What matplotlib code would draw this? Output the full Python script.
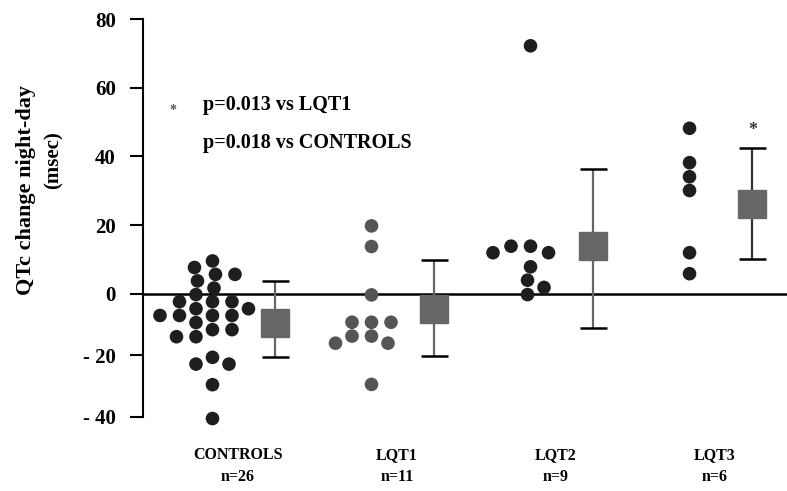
import numpy as np
import matplotlib
matplotlib.use("Agg")
import matplotlib.pyplot as plt

plt.rcParams['font.family'] = ['Liberation Serif', 'DejaVu Serif']
plt.rcParams['font.weight'] = 'bold'

# data (msec)
groups = ['CONTROLS', 'LQT1', 'LQT2', 'LQT3']
n_labels = ['n=26', 'n=11', 'n=9', 'n=6']
controls = [9.6, 7.7, 5.7, 5.7, 3.8, 1.7, -0.2, -2.5, -2.5, -2.5, -4.8, -4.8,
            -7.0, -7.0, -7.0, -7.0, -9.3, -11.6, -11.6, -13.9, -13.9,
            -20.6, -22.8, -22.8, -29.5, -40.5]
lqt1 = [19.8, 13.8, -0.3, -9.2, -9.2, -9.2, -13.7, -13.7, -16.0, -16.0, -29.4]
lqt2 = [72.2, 13.9, 13.9, 12.0, 12.0, 7.9, 4.0, 1.9, -0.2]
lqt3 = [48.2, 38.2, 34.1, 30.1, 12.0, 5.9]
values = [controls, lqt1, lqt2, lqt3]
means = [-9.3, -4.8, 14.0, 26.2]
err_low = [-20.4, -20.2, -11.1, 10.2]
err_high = [3.8, 9.8, 36.4, 42.4]
dot_colors = ['#1e1e1e', '#555555', '#1e1e1e', '#1e1e1e']
line_colors = ['#666666', '#666666', '#666666', '#333333']

# the scanned axis is squeezed below zero
neg = 0.895
def fwd(y):
    y = np.asarray(y, dtype=float)
    return np.where(y >= 0, y, y * neg)
def inv(y):
    y = np.asarray(y, dtype=float)
    return np.where(y >= 0, y, y / neg)

fig = plt.figure(figsize=(7.87, 4.91), dpi=100)
ax = fig.add_axes([143/787, 74/491, 644/787, 398/491])
ax.set_yscale('function', functions=(fwd, inv))
ax.set_ylim(-40, 80)
ax.set_xlim(-0.597, 3.453)

for s in ['top', 'right', 'bottom']:
    ax.spines[s].set_visible(False)
ax.spines['left'].set_linewidth(1.5)
ax.set_xticks([])
ax.set_yticks([80, 60, 40, 20, 0, -20, -40])
ax.set_yticklabels(['80', '60', '40', '20', '0', '- 20', '- 40'])
ax.tick_params(axis='y', direction='out', length=9.5, width=1.5, pad=10, labelsize=15)
ax.axhline(0, color='black', lw=1.8, zorder=1)

fig.canvas.draw()

# beeswarm in pixel space, wider spacing along x than along y
gx, gy = 19.0, 13.5
def swarm(xc, ys):
    placed = []
    xs = np.zeros(len(ys))
    for k in np.argsort(ys)[::-1]:
        px, py = ax.transData.transform((xc, ys[k]))
        best = None
        for step in range(0, 60):
            for sgn in ([1] if step == 0 else [-1, 1]):
                cx = px + sgn * step * 1.5
                if all(((cx - qx) / gx) ** 2 + ((py - qy) / gy) ** 2 >= 1 for qx, qy in placed):
                    best = cx
                    break
            if best is not None:
                break
        placed.append((best, py))
        xs[k] = ax.transData.inverted().transform((best, py))[0]
    return xs

dot_off = -0.16
box_off = 0.236
for i, vals in enumerate(values):
    vals = np.array(vals)
    xs = swarm(i + dot_off, vals)
    ax.scatter(xs, vals, s=96, color=dot_colors[i], edgecolors='none', zorder=3, clip_on=False)
    xb = i + box_off
    ax.vlines(xb, err_low[i], err_high[i], color=line_colors[i], lw=1.6, zorder=2)
    ax.hlines([err_low[i], err_high[i]], xb - 0.085, xb + 0.085, color='black', lw=1.8, zorder=2)
    ax.plot([xb], [means[i]], marker='s', markersize=20, color='#666666', zorder=4)
    lbl_x = (ax.transData.transform((i, 0))[0]) / 787
    fig.text(lbl_x, 1 - 455/491, groups[i], ha='center', va='center', fontsize=11.5)
    fig.text(lbl_x, 1 - 477/491, n_labels[i], ha='center', va='center', fontsize=11.5)

ax.text(3 + box_off, 47.5, '*', ha='center', va='center', fontsize=13, color='#333333')

fig.text(173/787, 1 - 110/491, '*', ha='center', va='center', fontsize=10, color='#555555')
fig.text(203/787, 1 - 105/491, 'p=0.013 vs LQT1', ha='left', va='center', fontsize=14.5)
fig.text(203/787, 1 - 143/491, 'p=0.018 vs CONTROLS', ha='left', va='center', fontsize=14.5)

fig.text(26/787, 1 - 190/491, 'QTc change night-day', rotation=90, ha='center', va='center', fontsize=16)
fig.text(54/787, 1 - 160/491, '(msec)', rotation=90, ha='center', va='center', fontsize=15)

fig.savefig('out.png', dpi=100)
